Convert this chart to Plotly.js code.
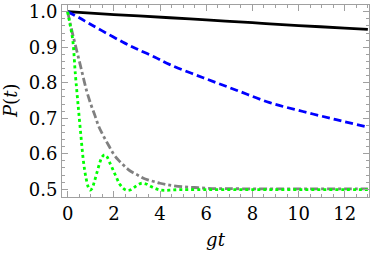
<!DOCTYPE html>
<html>
<head>
<meta charset="utf-8">
<script src="https://cdn.plot.ly/plotly-3.0.1.min.js"></script>
<style>
html,body{margin:0;padding:0;background:#fff;}
#chart{width:374px;height:255px;}
</style>
</head>
<body>
<div id="chart"></div>
<script>
// Series
var tBlack = [0, 2, 4.43, 6, 8, 8.75, 10, 12, 13];
var pBlack = [1.0, 0.992, 0.983, 0.977, 0.969, 0.966, 0.961, 0.954, 0.950];

var tBlue = [0, 0.5, 0.9, 1.5, 2.4, 3.0, 3.78, 4.43, 5.87, 7.31, 8.75, 10.19, 11.63, 13];
var pBlue = [1.0, 0.983, 0.968, 0.946, 0.914, 0.895, 0.872, 0.851, 0.814, 0.779, 0.744, 0.719, 0.696, 0.675];

var tGray = [0, 0.15, 0.31, 0.5, 0.65, 0.83, 1.0, 1.19, 1.34, 1.55, 1.77, 1.98, 2.2, 2.4, 2.6, 2.8, 3.06, 3.28, 3.5, 3.78, 4.0, 4.29, 4.57, 5.0, 5.5, 6.0, 6.5, 7, 8, 9, 10, 11, 12, 13];
var pGray = [1.0, 0.955, 0.912, 0.862, 0.822, 0.775, 0.740, 0.706, 0.678, 0.650, 0.624, 0.600, 0.582, 0.569, 0.557, 0.548, 0.539, 0.531, 0.526, 0.521, 0.517, 0.513, 0.510, 0.507, 0.505, 0.503, 0.502, 0.502, 0.501, 0.501, 0.501, 0.501, 0.501, 0.501];

var tGreen = [0, 0.1, 0.22, 0.33, 0.44, 0.56, 0.69, 0.8, 0.9, 0.97, 1.05, 1.15, 1.28, 1.4, 1.5, 1.6, 1.7, 1.8, 1.95, 2.1, 2.25, 2.4, 2.55, 2.7, 2.85, 3.0, 3.2, 3.4, 3.6, 3.8, 4.0, 4.2, 4.5, 4.8, 5.2, 6, 7, 8, 9, 10, 11, 12, 13];
var pGreen = [1.0, 0.965, 0.92, 0.826, 0.745, 0.66, 0.575, 0.53, 0.505, 0.498, 0.502, 0.52, 0.55, 0.577, 0.592, 0.597, 0.592, 0.578, 0.557, 0.535, 0.515, 0.503, 0.497, 0.498, 0.504, 0.511, 0.517, 0.515, 0.508, 0.502, 0.498, 0.497, 0.498, 0.499, 0.499, 0.499, 0.499, 0.499, 0.499, 0.499, 0.499, 0.499, 0.499];

var xTickVals = [0, 2, 4, 6, 8, 10, 12];
var yTickVals = [0.5, 0.6, 0.7, 0.8, 0.9, 1.0];
var yTickText = ["0.5", "0.6", "0.7", "0.8", "0.9", "1.0"];
var xTitle = "<i>gt</i>";
var yTitle = "<i>P</i>(<i>t</i>)";

var FONT = "DejaVu Serif";
var FS = 18;
var FRAME = "#a0a0a0";

var traces = [
  {x: tBlack, y: pBlack, mode: "lines", line: {color: "#000000", width: 2.8, shape: "spline"}},
  {x: tBlue, y: pBlue, mode: "lines", line: {color: "#0000ff", width: 2.8, dash: "8px,4px", shape: "spline"}},
  {x: tGray, y: pGray, mode: "lines", line: {color: "#808080", width: 2.8, dash: "8px,3px,3px,3px", shape: "spline"}},
  {x: tGreen, y: pGreen, mode: "lines", line: {color: "#00ff00", width: 2.8, dash: "3px,3px", shape: "spline"}}
];

var layout = {
  width: 374, height: 255,
  margin: {l: 62, r: 5, t: 5, b: 58},
  paper_bgcolor: "#ffffff", plot_bgcolor: "#ffffff",
  showlegend: false,
  font: {family: FONT, size: FS, color: "#000"},
  xaxis: {
    range: [-0.246, 13.05],
    tickvals: xTickVals,
    ticks: "inside", ticklen: 6, tickwidth: 1, tickcolor: FRAME,
    showline: true, linecolor: FRAME, linewidth: 1, mirror: "allticks",
    showgrid: false, zeroline: false,
    minor: {dtick: 0.5, tick0: 0, ticks: "inside", ticklen: 3, tickcolor: FRAME, showgrid: false},
    tickfont: {family: FONT, size: FS, color: "#000"},
    title: {text: xTitle, font: {family: FONT, size: FS, color: "#000"}, standoff: 10}
  },
  yaxis: {
    range: [0.4783, 1.0189],
    tickvals: yTickVals, ticktext: yTickText,
    ticks: "inside", ticklen: 6, tickwidth: 1, tickcolor: FRAME,
    showline: true, linecolor: FRAME, linewidth: 1, mirror: "allticks",
    showgrid: false, zeroline: false,
    minor: {dtick: 0.02, tick0: 0, ticks: "inside", ticklen: 3, tickcolor: FRAME, showgrid: false},
    tickfont: {family: FONT, size: FS, color: "#000"}
  },
  annotations: [{
    text: yTitle, xref: "paper", yref: "paper", x: 0, y: 0.5,
    xanchor: "center", yanchor: "middle", xshift: -52, textangle: -90,
    showarrow: false, font: {family: FONT, size: FS, color: "#000"}
  }]
};

Plotly.newPlot("chart", traces, layout, {staticPlot: true, displayModeBar: false});
</script>
</body>
</html>
